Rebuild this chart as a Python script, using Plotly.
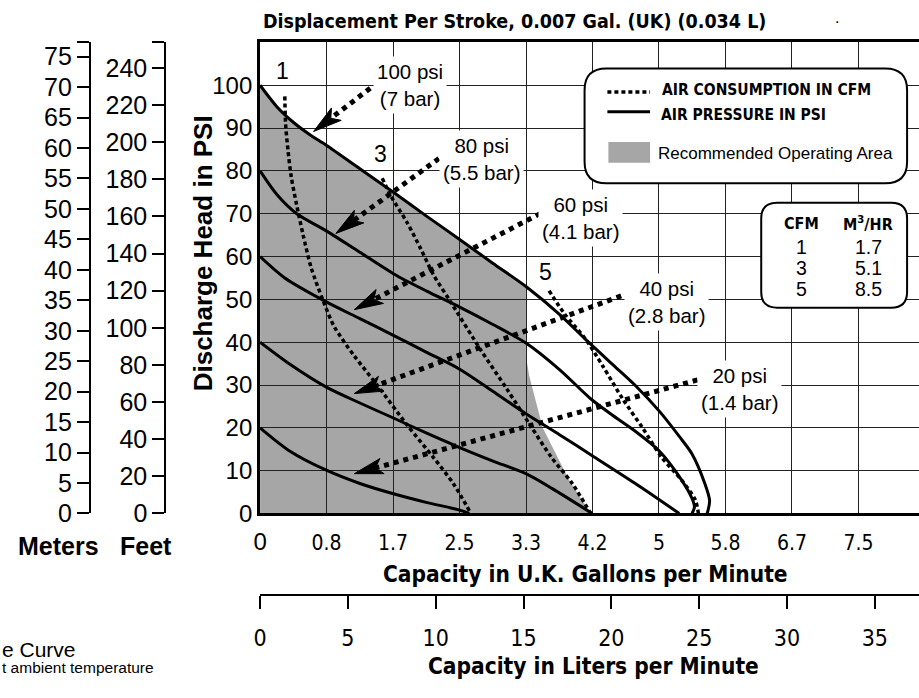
import math
import plotly.graph_objects as go

W, H = 919, 698

# ---------------- data (capacity in UK gal/min, head in psi) ----------------
psi_levels = [100, 80, 60, 40, 20]
bar_levels = ["7", "5.5", "4.1", "2.8", "1.4"]

p100_x = [0, 0.21, 0.42, 0.62, 0.83, 1.25, 1.67, 2.08, 2.50, 2.91, 3.33, 3.75, 4.08, 4.41, 4.70, 5.00, 5.25, 5.41, 5.57, 5.63, 5.60]
p100_y = [100, 95, 91.3, 88.5, 86, 80.5, 75, 69.5, 64, 58.5, 53, 46.5, 40.6, 34.9, 29.9, 23.9, 18, 13.9, 7, 3, 0]

p80_x = [0, 0.21, 0.46, 0.83, 1.25, 1.67, 2.08, 2.50, 2.91, 3.33, 3.75, 4.14, 4.41, 4.70, 5.00, 5.28, 5.41, 5.44, 5.41]
p80_y = [80, 74.5, 70, 66, 61, 56, 52, 48.2, 44.2, 39.8, 33.6, 26.8, 23, 19.2, 14.6, 7.8, 3.5, 1.5, 0]

p60_x = [0, 0.31, 0.83, 1.25, 1.67, 2.08, 2.50, 2.91, 3.33, 3.75, 4.16, 4.70, 5.25]
p60_y = [60, 55, 49.4, 45.5, 41.6, 37.7, 33.7, 28.6, 23.3, 18.4, 13.5, 7, 0]

p40_x = [0, 0.37, 0.83, 1.25, 1.67, 2.08, 2.50, 2.91, 3.33, 3.66, 4.16]
p40_y = [40, 34.9, 29.5, 25.8, 22.3, 18.8, 15.4, 12.3, 9.3, 5.8, 0]

p20_x = [0, 0.37, 0.83, 1.25, 1.67, 2.08, 2.50, 2.62]
p20_y = [20, 14.6, 10.1, 7, 4.6, 2.6, 0.8, 0]

cfm1_x = [0.31, 0.32, 0.35, 0.39, 0.46, 0.54, 0.64, 0.79, 0.93, 1.18, 1.47, 1.84, 2.17, 2.42, 2.64]
cfm1_y = [97.4, 90.9, 84.8, 78.7, 71.9, 65, 57.4, 49.7, 43.6, 36.8, 29.9, 20.7, 13.1, 7, 0]

cfm3_x = [1.53, 1.64, 1.84, 2.01, 2.17, 2.38, 2.76, 3.09, 3.38, 3.65, 3.91, 4.14]
cfm3_y = [78.3, 74.1, 68, 61.9, 55.8, 49.6, 38.3, 29.1, 20.7, 13.1, 7, 0]

cfm5_x = [3.62, 3.81, 4.08, 4.29, 4.54, 4.79, 5.03, 5.28, 5.45, 5.49]
cfm5_y = [52, 46.7, 40.6, 34.5, 26.8, 20, 13.1, 7.8, 3.2, 0]

# right-hand edge of the recommended operating area
rec_edge_x = [3.33, 3.33, 3.37, 3.54, 3.87, 4.14]
rec_edge_y = [53, 36.8, 32.2, 20, 7.8, 0]

# pressure call-out arrows (tail -> tip)
arrow_tail_x = [1.38, 2.24, 3.62, 4.64, 5.60]
arrow_tail_y = [99.3, 82.9, 71.1, 51.6, 31.8]
arrow_tip_x = [0.67, 0.95, 1.18, 1.18, 1.18]
arrow_tip_y = [89.2, 65.4, 47.6, 28.0, 9.3]

# CFM -> m3/hr table
table_cfm = ["1", "3", "5"]
table_m3hr = ["1.7", "5.1", "8.5"]

# axis tick labels
uk_tick_labels = ["0", "0.8", "1.7", "2.5", "3.3", "4.2", "5", "5.8", "6.7", "7.5"]
liter_ticks = [0, 5, 10, 15, 20, 25, 30, 35]
psi_ticks = [0, 10, 20, 30, 40, 50, 60, 70, 80, 90, 100]
meter_ticks = list(range(0, 80, 5))
feet_ticks = list(range(0, 260, 20))

# ---------------- geometry ----------------
PLOT_L, PLOT_B, PLOT_T = 255, 524, 43
XU = 80.46   # px per UK gal
YU = 4.37    # px per psi
XMAX = (W - PLOT_L) / XU
YMAX = (PLOT_B - PLOT_T) / YU
US_TO_UK = 0.83267
L_PER_UK = 4.54609
M_PER_PSI = 0.70307
FT_PER_PSI = 2.30666

NARROW = "Liberation Sans Narrow, Arial Narrow, DejaVu Sans Condensed, sans-serif"
REG = "Liberation Sans, Arial, sans-serif"
GRAY = "#a6a6a6"


def px(x):
    return x / W


def py(y):
    return 1 - y / H


fig = go.Figure()

# pressure curves
for xs, ys in [(p100_x, p100_y), (p80_x, p80_y), (p60_x, p60_y), (p40_x, p40_y), (p20_x, p20_y)]:
    fig.add_trace(go.Scatter(x=xs, y=ys, mode="lines", line=dict(color="black", width=3, shape="spline", smoothing=0.8),
                             hoverinfo="skip"))

# air consumption curves
for xs, ys in [(cfm1_x, cfm1_y), (cfm3_x, cfm3_y), (cfm5_x, cfm5_y)]:
    fig.add_trace(go.Scatter(x=xs, y=ys, mode="lines",
                             line=dict(color="black", width=3.5, dash="4px,3px", shape="spline", smoothing=0.8),
                             hoverinfo="skip"))

# arrows
for tx, ty, hx, hy in zip(arrow_tail_x, arrow_tail_y, arrow_tip_x, arrow_tip_y):
    dxp = (hx - tx) * XU
    dyp = (hy - ty) * YU
    n = math.hypot(dxp, dyp)
    ux, uy = dxp / n, dyp / n
    vx, vy = -uy, ux
    L, w, notch = 29, 8, 7

    def back(a, b):
        return hx + (a * ux + b * vx) / XU, hy + (a * uy + b * vy) / YU

    p1 = back(-L, w)
    p2 = back(-(L - notch), 0)
    p3 = back(-L, -w)
    fig.add_trace(go.Scatter(x=[tx, p2[0]], y=[ty, p2[1]], mode="lines",
                             line=dict(color="black", width=5, dash="5px,5px"), hoverinfo="skip"))
    fig.add_trace(go.Scatter(x=[hx, p1[0], p2[0], p3[0], hx], y=[hy, p1[1], p2[1], p3[1], hy], mode="lines",
                             fill="toself", fillcolor="black", line=dict(color="black", width=1), hoverinfo="skip"))

# helper traces for extra axes
fig.add_trace(go.Scatter(x=[0], y=[0], xaxis="x2", yaxis="y", mode="markers", marker=dict(opacity=0), hoverinfo="skip"))
fig.add_trace(go.Scatter(x=[0], y=[0], xaxis="x", yaxis="y2", mode="markers", marker=dict(opacity=0), hoverinfo="skip"))
fig.add_trace(go.Scatter(x=[0], y=[0], xaxis="x", yaxis="y3", mode="markers", marker=dict(opacity=0), hoverinfo="skip"))

# recommended operating area (below the grid)
area_pts = [(0, 0)] + [(x, y) for x, y in zip(p100_x, p100_y) if x < rec_edge_x[0]] + list(zip(rec_edge_x, rec_edge_y))
path = "M " + " L ".join(f"{x},{y}" for x, y in area_pts) + " Z"
shapes = [dict(type="path", path=path, xref="x", yref="y", fillcolor=GRAY, line=dict(width=0), layer="below")]


def rrect(x0, y0, x1, y1, r):
    def P(x, y):
        return f"{px(x):.5f},{py(y):.5f}"
    s = (f"M {P(x0 + r, y0)} L {P(x1 - r, y0)} Q {P(x1, y0)} {P(x1, y0 + r)} "
         f"L {P(x1, y1 - r)} Q {P(x1, y1)} {P(x1 - r, y1)} L {P(x0 + r, y1)} "
         f"Q {P(x0, y1)} {P(x0, y1 - r)} L {P(x0, y0 + r)} Q {P(x0, y0)} {P(x0 + r, y0)} Z")
    return dict(type="path", path=s, xref="paper", yref="paper", fillcolor="white",
                line=dict(color="black", width=2), layer="above")


shapes.append(rrect(582, 70, 907, 187, 22))
shapes.append(rrect(760, 207, 907, 314, 16))
shapes.append(dict(type="line", xref="paper", yref="paper", x0=px(605), x1=px(648), y0=py(94), y1=py(94),
                   line=dict(color="black", width=3.5, dash="4px,3px"), layer="above"))
shapes.append(dict(type="line", xref="paper", yref="paper", x0=px(605), x1=px(648), y0=py(114), y1=py(114),
                   line=dict(color="black", width=3), layer="above"))
shapes.append(dict(type="rect", xref="paper", yref="paper", x0=px(606), x1=px(648), y0=py(145), y1=py(166),
                   fillcolor=GRAY, line=dict(width=0), layer="above"))

ann = []


def A(text, x, y, size, family=REG, xa="center", ya="middle", bg=None, pad=0, angle=0):
    d = dict(text=text, x=px(x), y=py(y), xref="paper", yref="paper", showarrow=False,
             font=dict(size=size, family=family, color="black"), xanchor=xa, yanchor=ya,
             borderpad=pad, textangle=angle)
    if bg:
        d["bgcolor"] = bg
    ann.append(d)


A("<b>Displacement Per Stroke, 0.007 Gal. (UK) (0.034 L)</b>", 257, 22, 19.5, NARROW, xa="left")
A(".", 836, 18, 16)
A("<b>Discharge Head in PSI</b>", 197, 258, 26, REG, angle=-90)
A("<b>Capacity in U.K. Gallons per Minute</b>", 583, 586, 22.5, NARROW)
A("<b>Capacity in Liters per Minute</b>", 591, 680, 22.5, NARROW)
A("<b>Meters</b>", 52, 557, 25, REG)
A("<b>Feet</b>", 140, 557, 25, REG)
A("e Curve", -6, 663, 21, REG, xa="left")
A("t ambient temperature", -6, 681, 15.5, REG, xa="left")

# curve numbers
A("1", 278, 72, 23, REG)
A("3", 376, 157, 23, REG)
A("5", 543, 278, 23, REG)

# pressure labels
label_pos = [(406, 87), (478, 162), (578, 222), (665, 308), (738, 397)]
for (lx, ly), p, b in zip(label_pos, psi_levels, bar_levels):
    A(f"{p} psi<br>({b} bar)", lx, ly, 20.5, REG, bg="white", pad=3)

# legend
A("<b>AIR CONSUMPTION IN CFM</b>", 659, 92, 15.5, NARROW, xa="left")
A("<b>AIR PRESSURE IN PSI</b>", 658, 117, 15.5, NARROW, xa="left")
A("Recommended Operating Area", 655, 157, 17, REG, xa="left")

# table
A("<b>CFM</b>", 801, 228, 16, NARROW)
A("<b>M<sup>3</sup>/HR</b>", 868, 228, 16, NARROW)
for i, (c, m) in enumerate(zip(table_cfm, table_m3hr)):
    yy = 252 + i * 21.5
    A(c, 801, yy, 19.5, REG)
    A(m, 868, yy, 19.5, REG)

uk_tickvals = [i * US_TO_UK for i in range(len(uk_tick_labels))]
uk_ticktext = ['<span style="font-family:Liberation Sans;font-size:24px">0</span>'] + uk_tick_labels[1:]

fig.update_layout(
    width=W, height=H, margin=dict(l=0, r=0, t=0, b=0),
    paper_bgcolor="white", plot_bgcolor="white", showlegend=False,
    shapes=shapes, annotations=ann,
    xaxis=dict(domain=[px(PLOT_L), 1], range=[0, XMAX], tickvals=uk_tickvals, ticktext=uk_ticktext,
               showgrid=True, gridcolor="#222", gridwidth=1, zeroline=False,
               showline=True, linecolor="black", linewidth=3, mirror=True, ticks="",
               tickfont=dict(family=NARROW, size=21, color="black"), ticklabelstandoff=8, fixedrange=True),
    yaxis=dict(domain=[py(PLOT_B), py(PLOT_T)], range=[0, YMAX], tickvals=psi_ticks,
               showgrid=True, gridcolor="#222", gridwidth=1, zeroline=False,
               showline=True, linecolor="black", linewidth=3, ticks="",
               tickfont=dict(family=REG, size=24, color="black"), ticklabelstandoff=0, fixedrange=True),
    xaxis2=dict(overlaying="x", anchor="free", position=py(607), side="bottom",
                range=[0, XMAX * L_PER_UK], tickvals=liter_ticks, showgrid=False, zeroline=False,
                showline=True, linecolor="black", linewidth=2, ticks="outside", ticklen=13, tickwidth=2,
                tickcolor="black", tickfont=dict(family=NARROW, size=23, color="black"), ticklabelstandoff=10),
    yaxis2=dict(overlaying="y", anchor="free", position=px(83.5), side="left",
                range=[0, YMAX * M_PER_PSI], tickvals=meter_ticks + [YMAX * M_PER_PSI],
                ticktext=[str(v) for v in meter_ticks] + [""], showgrid=False, zeroline=False,
                showline=True, linecolor="black", linewidth=2, ticks="outside", ticklen=12, tickwidth=2,
                tickcolor="black", tickfont=dict(family=REG, size=25, color="black"), ticklabelstandoff=0),
    yaxis3=dict(overlaying="y", anchor="free", position=px(159.5), side="left",
                range=[0, YMAX * FT_PER_PSI], tickvals=feet_ticks + [YMAX * FT_PER_PSI],
                ticktext=[str(v) for v in feet_ticks] + [""], showgrid=False, zeroline=False,
                showline=True, linecolor="black", linewidth=2, ticks="outside", ticklen=12, tickwidth=2,
                tickcolor="black", tickfont=dict(family=REG, size=25, color="black"), ticklabelstandoff=0),
)

fig.write_html("out.html", config={"displayModeBar": False},
               post_script="document.body.style.margin='0px';")
